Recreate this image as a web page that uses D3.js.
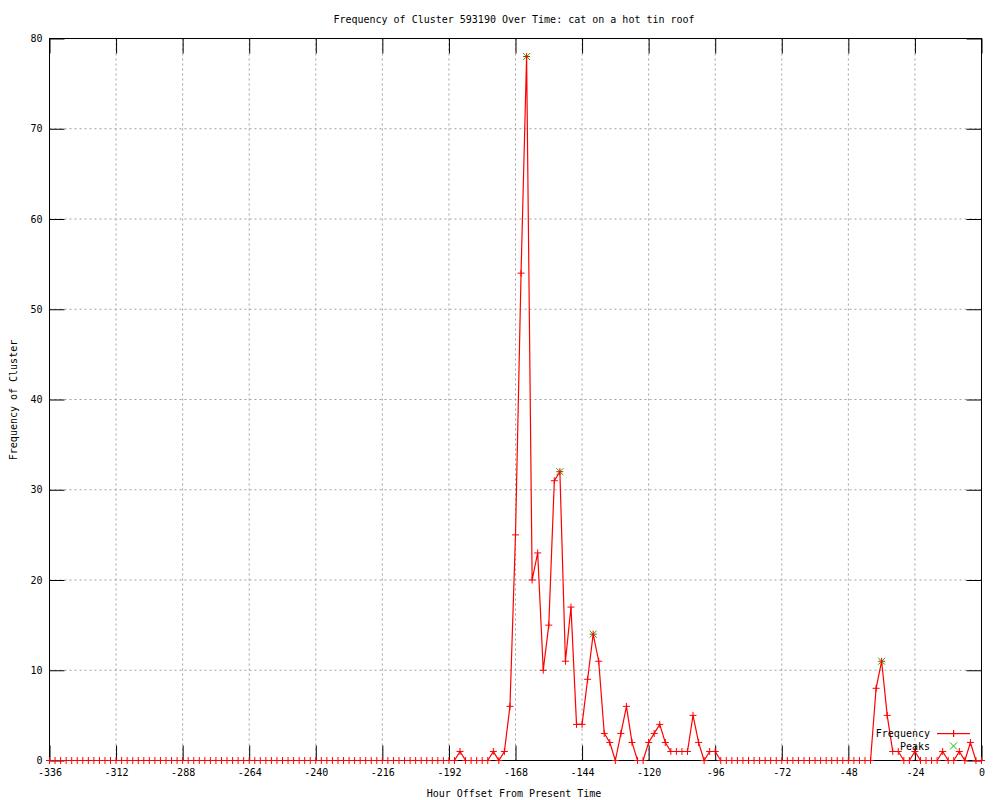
<!DOCTYPE html>
<html>
<head>
<meta charset="utf-8">
<script src="https://cdn.jsdelivr.net/npm/d3@7"></script>
<style>
  body { margin: 0; background: #fff; }
  text { font-family: "DejaVu Sans Mono", monospace; font-size: 10px; fill: #000; }
</style>
</head>
<body>
<div id="chart"></div>
<script>
// hours run from -336 to 0, one point every 2 hours
var hourStart = -336, hourStep = 2;
var freq = [
  0,0,0,0,0,0,0,0,0,0,0,0,
  0,0,0,0,0,0,0,0,0,0,0,0,
  0,0,0,0,0,0,0,0,0,0,0,0,
  0,0,0,0,0,0,0,0,0,0,0,0,
  0,0,0,0,0,0,0,0,0,0,0,0,
  0,0,0,0,0,0,0,0,0,0,0,0,
  0,0,1,0,0,0,0,0,1,0,1,6,
  25,54,78,20,23,10,15,31,32,11,17,4,
  4,9,14,11,3,2,0,3,6,2,0,0,
  2,3,4,2,1,1,1,1,5,2,0,1,
  1,0,0,0,0,0,0,0,0,0,0,0,
  0,0,0,0,0,0,0,0,0,0,0,0,
  0,0,0,0,0,8,11,5,1,1,0,0,
  1,0,0,0,0,1,0,0,1,0,2,0,
  0
];
var hours = freq.map(function(d, i) { return hourStart + i * hourStep; });

var peakHours  = [-164, -152, -140, -36];
var peakValues = [78, 32, 14, 11];

var xTicks = [-336, -312, -288, -264, -240, -216, -192, -168, -144, -120, -96, -72, -48, -24, 0];
var yTicks = [0, 10, 20, 30, 40, 50, 60, 70, 80];

(function draw() {
  var width = 1000, height = 800;
  var p_left = 49.5, p_right = 981.5, p_top = 38.5, p_bottom = 760.5;
  var tick_len = 15;
  var red = "#ff0000", green = "#00c000", grid_color = "#a0a0a0";

  var svg = d3.select("#chart").append("svg")
      .attr("width", width)
      .attr("height", height);

  var x = d3.scaleLinear().domain([-336, 0]).range([p_left, p_right]);
  var y = d3.scaleLinear().domain([0, 80]).range([p_bottom, p_top]);

  // grid
  var grid = svg.append("g").attr("class", "grid");
  grid.selectAll("line.gx")
      .data(xTicks)
      .enter().append("line")
      .attr("x1", function(d) { return x(d); })
      .attr("x2", function(d) { return x(d); })
      .attr("y1", p_top).attr("y2", p_bottom)
      .attr("stroke", grid_color)
      .attr("stroke-dasharray", "2,3");
  grid.selectAll("line.gy")
      .data(yTicks)
      .enter().append("line")
      .attr("y1", function(d) { return y(d); })
      .attr("y2", function(d) { return y(d); })
      .attr("x1", p_left).attr("x2", p_right)
      .attr("stroke", grid_color)
      .attr("stroke-dasharray", "2,3");

  // axes, ticks pointing inwards
  function style_axis(g) {
    g.select(".domain").remove();
    g.selectAll("line").attr("stroke", "#000");
    g.selectAll("text").style("font-family", "DejaVu Sans Mono, monospace").style("font-size", "10px");
  }

  svg.append("g")
      .attr("transform", "translate(0," + p_bottom + ")")
      .call(d3.axisBottom(x).tickValues(xTicks).tickSizeInner(-tick_len).tickSizeOuter(0)
        .tickPadding(8).tickFormat(function(d) { return String(d); }))
      .call(style_axis);
  svg.append("g")
      .attr("transform", "translate(0," + p_top + ")")
      .call(d3.axisTop(x).tickValues(xTicks).tickSizeInner(-tick_len).tickSizeOuter(0).tickFormat(""))
      .call(style_axis);
  svg.append("g")
      .attr("transform", "translate(" + p_left + ",0)")
      .call(d3.axisLeft(y).tickValues(yTicks).tickSizeInner(-tick_len).tickSizeOuter(0)
        .tickPadding(7).tickFormat(function(d) { return String(d); }))
      .call(style_axis);
  svg.append("g")
      .attr("transform", "translate(" + p_right + ",0)")
      .call(d3.axisRight(y).tickValues(yTicks).tickSizeInner(-tick_len).tickSizeOuter(0).tickFormat(""))
      .call(style_axis);

  // border
  svg.append("rect")
      .attr("x", p_left).attr("y", p_top)
      .attr("width", p_right - p_left).attr("height", p_bottom - p_top)
      .attr("fill", "none").attr("stroke", "#000");

  // series
  var pts = hours.map(function(h, i) { return [h, freq[i]]; });
  var line = d3.line()
      .x(function(d) { return x(d[0]); })
      .y(function(d) { return y(d[1]); });

  svg.append("path")
      .datum(pts)
      .attr("d", line)
      .attr("fill", "none")
      .attr("stroke", red)
      .attr("stroke-width", 1.2);

  var plus = "M-3.5,0H3.5M0,-3.5V3.5";
  var cross = "M-3.5,-3.5L3.5,3.5M-3.5,3.5L3.5,-3.5";

  var peaks = peakHours.map(function(h, i) { return [h, peakValues[i]]; });
  svg.append("g").selectAll("path")
      .data(peaks)
      .enter().append("path")
      .attr("transform", function(d) { return "translate(" + x(d[0]) + "," + y(d[1]) + ")"; })
      .attr("d", cross)
      .attr("stroke", green)
      .attr("stroke-width", 1);

  svg.append("g").selectAll("path")
      .data(pts)
      .enter().append("path")
      .attr("transform", function(d) { return "translate(" + x(d[0]) + "," + y(d[1]) + ")"; })
      .attr("d", plus)
      .attr("stroke", red)
      .attr("stroke-width", 1);

  // legend
  var lg = svg.append("g");
  lg.append("text").attr("x", 930).attr("y", 737).attr("text-anchor", "end").text("Frequency");
  lg.append("rect").attr("x", 937).attr("y", 733).attr("width", 33).attr("height", 1.2)
      .style("fill", red);
  lg.append("rect").attr("x", 953).attr("y", 730).attr("width", 1.2).attr("height", 7)
      .style("fill", red);
  lg.append("text").attr("x", 930).attr("y", 750).attr("text-anchor", "end").text("Peaks");
  lg.append("path").attr("transform", "translate(953.5,746)").attr("d", cross)
      .style("stroke", green).style("fill", "none");

  // titles
  svg.append("text").attr("x", 514).attr("y", 23).attr("text-anchor", "middle")
      .text("Frequency of Cluster 593190 Over Time: cat on a hot tin roof");
  svg.append("text").attr("x", 514).attr("y", 797).attr("text-anchor", "middle")
      .text("Hour Offset From Present Time");
  svg.append("text")
      .attr("transform", "translate(17,400) rotate(-90)")
      .attr("text-anchor", "middle")
      .text("Frequency of Cluster");
})();
</script>
</body>
</html>
